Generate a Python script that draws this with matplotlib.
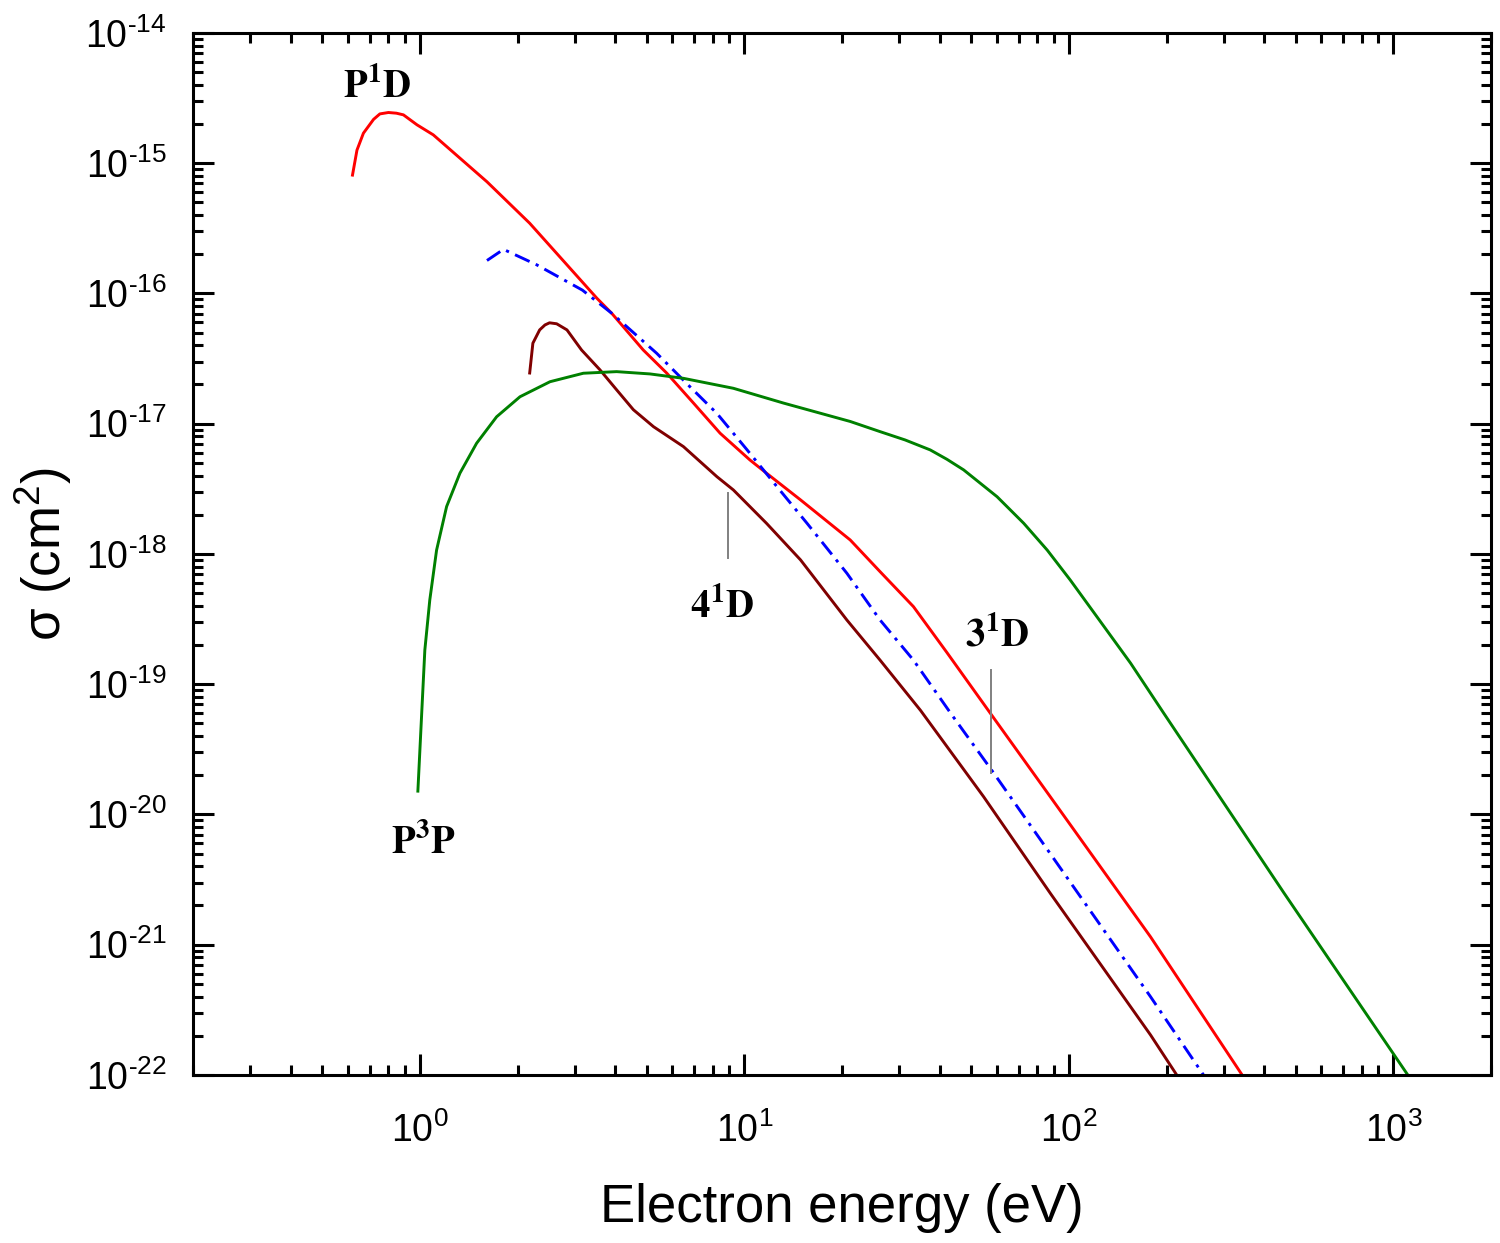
import matplotlib
matplotlib.use("Agg")
import matplotlib.pyplot as plt
from matplotlib.ticker import LogLocator, NullFormatter, FuncFormatter
import numpy as np

# cross sections (energy in eV, sigma in cm^2)
p1d_energy = [0.62, 0.64, 0.67, 0.72, 0.753, 0.80, 0.847, 0.89, 0.98, 1.10, 1.61,
              2.18, 3.51, 3.90, 4.88, 5.77, 6.97, 8.42, 10.4, 11.7, 14.9, 21.2,
              26.2, 33.2, 42.1, 57.3, 87.8, 178.5, 342]
p1d_sigma = [8.1e-16, 1.26e-15, 1.70e-15, 2.17e-15, 2.39e-15, 2.45e-15, 2.42e-15,
             2.35e-15, 1.97e-15, 1.65e-15, 7.2e-16, 3.46e-16, 9.2e-17, 7.05e-17,
             3.68e-17, 2.44e-17, 1.44e-17, 8.45e-18, 5.27e-18, 4.17e-18, 2.60e-18,
             1.28e-18, 7.31e-19, 3.94e-19, 1.75e-19, 5.98e-20, 1.36e-20, 1.15e-21,
             1.0e-22]

d31_energy = [1.61, 1.81, 2.29, 3.17, 3.90, 5.37, 6.80, 8.23, 10.2, 12.6, 15.6,
              20.7, 26.2, 33.2, 43.6, 57.3, 87.8, 178.5, 260]
d31_sigma = [1.79e-16, 2.18e-16, 1.66e-16, 1.06e-16, 7.05e-17, 3.47e-17, 1.92e-17,
             1.20e-17, 6.29e-18, 3.29e-18, 1.72e-18, 7.11e-19, 3.11e-19, 1.53e-19,
             5.81e-20, 2.26e-20, 4.97e-21, 3.99e-22, 1.0e-22]

d41_energy = [2.18, 2.23, 2.34, 2.43, 2.51, 2.64, 2.84, 3.15, 3.59, 4.04, 4.55,
              5.25, 6.49, 8.23, 9.25, 11.7, 14.9, 20.7, 26.2, 34.9, 54.6, 87.8,
              178.5, 215]
d41_sigma = [2.45e-17, 4.15e-17, 5.25e-17, 5.73e-17, 5.95e-17, 5.85e-17, 5.25e-17,
             3.68e-17, 2.59e-17, 1.82e-17, 1.28e-17, 9.48e-18, 6.67e-18, 3.92e-18,
             3.10e-18, 1.72e-18, 9.0e-19, 3.11e-19, 1.53e-19, 6.3e-20, 1.37e-20,
             2.47e-21, 2.03e-22, 1.0e-22]

p3p_energy = [0.986, 1.012, 1.036, 1.073, 1.126, 1.209, 1.329, 1.496, 1.724, 2.035,
              2.518, 3.19, 4.04, 5.12, 6.49, 9.25, 13.2, 21.2, 26.2, 31.3, 37.4,
              42.1, 47.4, 60.1, 72.6, 85.8, 101, 122, 155, 196, 460, 1108]
p3p_sigma = [1.51e-20, 5.64e-20, 1.83e-19, 4.43e-19, 1.07e-18, 2.31e-18, 4.17e-18,
             7.08e-18, 1.13e-17, 1.61e-17, 2.10e-17, 2.44e-17, 2.51e-17, 2.41e-17,
             2.23e-17, 1.87e-17, 1.44e-17, 1.04e-17, 8.69e-18, 7.5e-18, 6.29e-18,
             5.33e-18, 4.42e-18, 2.75e-18, 1.72e-18, 1.07e-18, 6.31e-19, 3.30e-19,
             1.45e-19, 6.0e-20, 2.5e-21, 1.0e-22]

plt.rcParams["font.family"] = ["Liberation Sans", "DejaVu Sans"]
plt.rcParams["mathtext.fontset"] = "stix"
plt.rcParams["axes.unicode_minus"] = False

fig = plt.figure(figsize=(15, 12.43), dpi=100)
ax = fig.add_axes([0.1287, 0.1352, 0.8653, 0.8383])

lw = 2.1
ax.plot(p1d_energy, p1d_sigma, color="#ff0000", lw=lw)
ax.plot(d31_energy, d31_sigma, color="#0000ff", lw=lw,
        linestyle=(0, (5.5, 2.3, 1.1, 2.3)))
ax.plot(d41_energy, d41_sigma, color="#800000", lw=lw)
ax.plot(p3p_energy, p3p_sigma, color="#008000", lw=lw)

# pointer lines for 4^1D and 3^1D
ax.plot([8.93, 8.93], [2.92e-18, 9.27e-19], color="#808080", lw=1.4)
ax.plot([57.7, 57.7], [1.29e-19, 2.07e-20], color="#808080", lw=1.4)

lab_kw = dict(fontsize=28, ha="center", va="center")
ax.text(0.737, 3.85e-15, r"$\mathbf{P^{1}D}$", **lab_kw)
ax.text(1.03, 6.04e-21, r"$\mathbf{P^{3}P}$", **lab_kw)
ax.text(8.54, 3.92e-19, r"$\mathbf{4^{1}D}$", **lab_kw)
ax.text(60.2, 2.39e-19, r"$\mathbf{3^{1}D}$", **lab_kw)

ax.set_xscale("log")
ax.set_yscale("log")
ax.set_xlim(0.2, 2000)
ax.set_ylim(1e-22, 1e-14)


def pow_label(v, pos):
    e = int(round(np.log10(v)))
    if e < 0:
        return r"$\mathdefault{10^{\text{-}%d}}$" % (-e)
    return r"$\mathdefault{10^{%d}}$" % e


for axis in (ax.xaxis, ax.yaxis):
    axis.set_major_locator(LogLocator(base=10, numticks=30))
    axis.set_major_formatter(FuncFormatter(pow_label))
    axis.set_minor_locator(LogLocator(base=10, subs=range(2, 10), numticks=300))
    axis.set_minor_formatter(NullFormatter())

ax.tick_params(which="both", direction="in", top=True, right=True, width=2.2)
ax.tick_params(which="major", length=15, labelsize=27)
ax.tick_params(which="minor", length=7.5)
ax.tick_params(axis="x", which="major", pad=27)
ax.tick_params(axis="y", which="major", pad=19)
for s in ax.spines.values():
    s.set_linewidth(2.2)

ax.set_xlabel("Electron energy (eV)", fontsize=38, labelpad=24)
ax.set_ylabel(r"σ (cm$\mathdefault{^{2}}$)", fontsize=38, labelpad=8)

fig.savefig("out.png", dpi=100)
